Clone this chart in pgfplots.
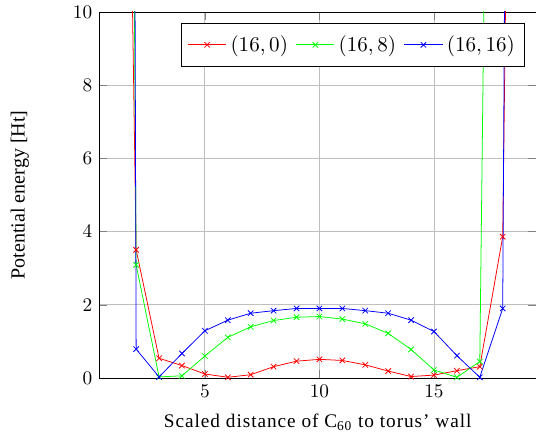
\documentclass[border=0pt]{standalone}
\usepackage{fontspec}
\setmainfont{Liberation Serif}
\newfontfamily\xlabfont[LetterSpace=5]{Liberation Serif}
\usepackage{pgfplots}
\pgfplotsset{compat=1.18}
\usetikzlibrary{calc}

\begin{document}
\begin{tikzpicture}
\begin{axis}[
    scale only axis,
    width=227pt,
    height=190pt,
    xmin=0.38, xmax=19.47,
    ymin=0, ymax=10,
    xtick={5,10,15},
    ytick={0,2,4,6,8,10},
    grid=major,
    xlabel={\xlabfont Scaled distance of C\textsubscript{60} to torus’ wall},
    ylabel={\fontsize{10.4pt}{12pt}\selectfont Potential energy [Ht]},
    xlabel shift=2pt,
    ylabel shift=16pt,
    legend columns=3,
    legend style={at={(1,1)}, anchor=north east, xshift=-6pt, yshift=-5.5pt,
        font=\fontsize{10.8pt}{13pt}\selectfont, inner ysep=4.5pt,
        /tikz/every even column/.append style={column sep=2pt}},
    legend image code/.code={
        \draw[mark repeat=2,mark phase=2] plot coordinates {(0cm,0cm) (0.35cm,0cm) (0.7cm,0cm)};
    },
]
\addplot[red, mark=x] coordinates {
    (1,45) (2,3.50) (3,0.54) (4,0.34) (5,0.11) (6,0.02) (7,0.09) (8,0.31)
    (9,0.46) (10,0.51) (11,0.48) (12,0.36) (13,0.19) (14,0.04) (15,0.08)
    (16,0.20) (17,0.31) (18,3.86) (19,55)
};
\addlegendentry{$(16,0)$}
\addplot[green, mark=x] coordinates {
    (1,95) (2,3.09) (3,0.03) (4,0.06) (5,0.60) (6,1.11) (7,1.40) (8,1.57)
    (9,1.66) (10,1.68) (11,1.61) (12,1.48) (13,1.22) (14,0.78) (15,0.22)
    (16,0.02) (17,0.45) (18,55)
};
\addlegendentry{$(16,8)$}
\addplot[blue, mark=x] coordinates {
    (1,200) (2,0.79) (3,0.03) (4,0.67) (5,1.29) (6,1.58) (7,1.77) (8,1.84)
    (9,1.90) (10,1.90) (11,1.90) (12,1.84) (13,1.77) (14,1.58) (15,1.27)
    (16,0.61) (17,0.02) (18,1.90) (19,110)
};
\addlegendentry{$(16,16)$}
\end{axis}
\pgfresetboundingbox
\useasboundingbox ($(current axis.south west)+(-51.4pt,-34pt)$)
    rectangle ($(current axis.north east)+(-0.2pt,6.2pt)$);
\end{tikzpicture}
\end{document}
